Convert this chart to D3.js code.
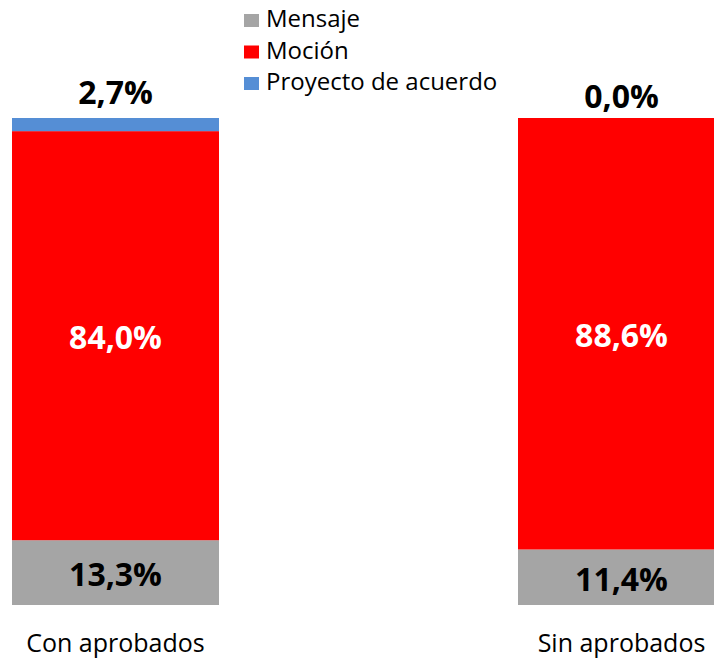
<!DOCTYPE html>
<html>
<head>
<meta charset="utf-8">
<script src="https://cdn.jsdelivr.net/npm/d3@7"></script>
<style>
  html, body { margin: 0; padding: 0; background: #fff; overflow: hidden; }
  svg { display: block; font-family: 'Open Sans', sans-serif; }
</style>
</head>
<body>
<svg id="chart" width="714" height="658"></svg>
<script>
// categories and series (share of total)
var categories = ['Con aprobados', 'Sin aprobados']
var series = ['Mensaje', 'Moción', 'Proyecto de acuerdo']
var mensaje = [13.3, 11.4]
var mocion = [84.0, 88.6]
var proyecto = [2.7, 0.0]
var colors = ['#A5A5A5', '#FF0000', '#558ED5']

var svg = d3.select('#chart')

// build rows for the stack
var rows = categories.map((c, i) => ({
  cat: c,
  'Mensaje': mensaje[i],
  'Moción': mocion[i],
  'Proyecto de acuerdo': proyecto[i]
}))
var stacked = d3.stack().keys(series)(rows)

var x = d3.scaleBand().domain(categories).range([12, 725])
  .paddingInner(1 - 207 / 506).paddingOuter(0)
var y = d3.scaleLinear().domain([0, 100]).range([605, 118])
var color = d3.scaleOrdinal().domain(series).range(colors)
var fmt = (v) => v.toFixed(1).replace('.', ',') + '%'

// bars
var layer = svg.selectAll('g.layer')
  .data(stacked)
  .enter().append('g')
  .attr('class', 'layer')
  .attr('fill', (d) => color(d.key))

layer.selectAll('rect')
  .data((d) => d)
  .enter().append('rect')
  .attr('x', (d) => x(d.data.cat))
  .attr('width', x.bandwidth())
  .attr('y', (d) => y(d[1]))
  .attr('height', (d) => y(d[0]) - y(d[1]))

// labels: first two series inside segments, last series above bar
stacked.forEach((s, si) => {
  var top = si === series.length - 1
  svg.selectAll('text.lab' + si)
    .data(s)
    .enter().append('text')
    .attr('class', 'lab' + si)
    .attr('x', (d) => x(d.data.cat) + x.bandwidth() / 2)
    .attr('y', (d) => top ? y(d[1]) - 10 - (y(d[0]) - y(d[1])) * 0.3 : (y(d[0]) + y(d[1])) / 2)
    .attr('dy', top ? 0 : '0.42em')
    .attr('text-anchor', 'middle')
    .attr('font-size', 32)
    .attr('font-weight', 700)
    .attr('fill', si === 1 ? '#fff' : '#000')
    .text((d) => fmt(d[1] - d[0]))
})

// category labels
svg.selectAll('text.cat')
  .data(categories)
  .enter().append('text')
  .attr('class', 'cat')
  .attr('x', (d) => x(d) + x.bandwidth() / 2)
  .attr('y', 652)
  .attr('text-anchor', 'middle')
  .attr('font-size', 25)
  .attr('fill', '#000')
  .text((d) => d)

// legend
var legend = svg.append('g').attr('transform', 'translate(244,0)')
var item = legend.selectAll('g')
  .data(series)
  .enter().append('g')
  .attr('transform', (d, i) => 'translate(0,' + (27 + i * 31.5) + ')')
item.append('rect')
  .attr('x', 0).attr('y', -13)
  .attr('width', 15).attr('height', 13)
  .attr('fill', (d) => color(d))
item.append('text')
  .attr('x', 22).attr('y', 0)
  .attr('font-size', 24)
  .attr('fill', '#000')
  .text((d) => d)
</script>
</body>
</html>
